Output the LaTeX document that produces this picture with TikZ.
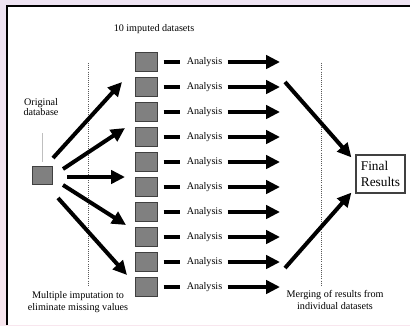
\documentclass[tikz,border=0pt]{standalone}
\usepackage{fontspec}
\setmainfont{Liberation Serif}
\usetikzlibrary{arrows.meta}
\definecolor{lav}{HTML}{EEE3F2}
\definecolor{pnk}{HTML}{F8E6EE}
\begin{document}
\begin{tikzpicture}[x=0.75pt,y=-0.75pt,
  ds/.style={draw=black!75, fill=black!50, line width=0.75pt, minimum width=16.5pt, minimum height=14.25pt, inner sep=0pt},
  lbl/.style={font=\fontsize{7.6}{9}\selectfont, inner sep=0pt, align=center},
  fat/.style={line width=3pt, -{Triangle[length=10.5pt,width=10pt]}},
  bar/.style={line width=3pt},
  sep/.style={densely dotted, line width=0.6pt, black!65}]
\useasboundingbox (0,0) rectangle (410,325);
\shade[top color=lav, bottom color=pnk] (0,0) rectangle (410,325);
\fill[white] (7,6) rectangle (410,325);
\draw[line width=1.5pt] (6.5,325) -- (6.5,5.5) -- (410,5.5);

% separators
\coordinate (l1) at (88,63); \coordinate (l2) at (88,286);
\coordinate (r1) at (321,63); \coordinate (r2) at (321,286);
\draw[sep] (l1) -- (l2);
\draw[sep] (r1) -- (r2);

% titles
\node[lbl] (title) at (154,29) {10 imputed datasets};
\node[lbl, font=\fontsize{7.6}{7.8}\selectfont] (orig) at (41,107) {Original\\database};
\node[lbl] (mi) at (78,302) {Multiple imputation to\\eliminate missing values};
\node[lbl] (mg) at (335,300) {Merging of results from\\individual datasets};

% original database
\node[ds, minimum width=15pt, minimum height=13.5pt] (o) at (42,175) {};
\coordinate (g) at (42,133);
\draw[black!25, line width=0.75pt] (g) -- ([yshift=3pt]o.north);

% datasets and analyses
\foreach \i in {1,...,10}{
  \node[ds] (d\i) at (146,37+25*\i) {};
  \node[lbl] (a\i) at (204.5,37+25*\i) {Analysis};
  \coordinate (e\i) at (280,37+25*\i);
  \draw[bar] ([xshift=4.5pt]d\i.east) -- ([xshift=-5.25pt]a\i.west);
  \draw[fat] ([xshift=3.75pt]a\i.east) -- (e\i);
}

% fan-out arrows
\coordinate (s1) at (53,158); \coordinate (t1) at (122,82);
\coordinate (s2) at (63,169); \coordinate (t2) at (125,128);
\coordinate (s3) at (67,177); \coordinate (t3) at (125,177);
\coordinate (s4) at (63,185); \coordinate (t4) at (126,225);
\coordinate (s5) at (58,198); \coordinate (t5) at (127,275);
\foreach \i in {1,...,5}{ \draw[fat] (s\i) -- (t\i); }

% final results
\node[draw=black!75, line width=0.9pt, align=left, inner xsep=3.5pt, minimum width=36.75pt, minimum height=28.5pt,
  font=\fontsize{10}{12}\selectfont] (F) at (380.5,174) {Final\\Results};
\coordinate (m1) at (285,82);
\coordinate (m2) at (285,268);
\draw[fat] (m1) -- ([shift={(-4,3)}]F.north west);
\draw[fat] (m2) -- ([shift={(-4,-1)}]F.south west);
\end{tikzpicture}
\end{document}
